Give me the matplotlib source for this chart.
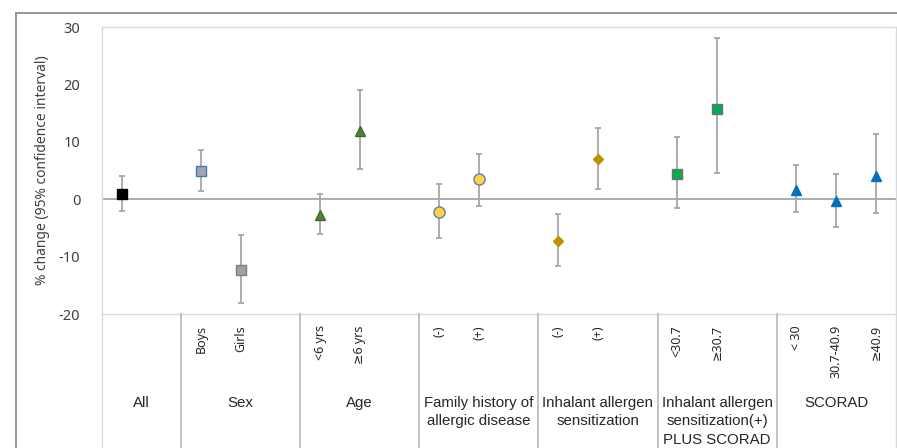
import matplotlib
matplotlib.use("Agg")
import matplotlib.pyplot as plt
from matplotlib.lines import Line2D

# ---------------- data ----------------
group_names = ["All", "Sex", "Age", "Family history of\nallergic disease",
               "Inhalant allergen\nsensitization",
               "Inhalant allergen\nsensitization(+)\nPLUS SCORAD", "SCORAD"]
subgroup_labels = [[""], ["Boys", "Girls"], ["<6 yrs", "\u22656 yrs"], ["(-)", "(+)"],
                   ["(-)", "(+)"], ["<30.7", "\u226530.7"], ["< 30", "30.7-40.9", "\u226540.9"]]
estimate = [0.87, 4.9, -12.3, -2.8, 11.9, -2.2, 3.6, -7.2, 7.0, 4.4, 15.7, 1.6, -0.35, 4.1]
ci_low = [-2.1, 1.4, -18.0, -6.0, 5.3, -6.7, -1.2, -11.7, 1.8, -1.6, 4.5, -2.3, -4.8, -2.4]
ci_high = [4.0, 8.6, -6.3, 0.9, 19.0, 2.6, 7.8, -2.5, 12.4, 10.8, 28.1, 6.0, 4.4, 11.3]
y_ticks = [-20, -10, 0, 10, 20, 30]
y_label = "% change (95% confidence interval)"

# ---------------- styles ----------------
group_slots = [2, 3, 3, 3, 3, 3, 3]
markers = ["s", "s", "s", "^", "^", "o", "o", "D", "D", "s", "s", "^", "^", "^"]
face = ["#000000", "#A5A5A5", "#A0A0A0", "#548235", "#548235", "#FFD43F", "#FFD43F",
        "#BF9000", "#BF9000", "#00B050", "#00B050", "#0070C0", "#0070C0", "#0070C0"]
edge = ["#000000", "#4472C4", "#7F7F7F", "#3F6A28", "#3F6A28", "#5B7DB1", "#5B7DB1",
        "#BF9000", "#BF9000", "#6F6F6F", "#6F6F6F", "#0070C0", "#0070C0", "#0070C0"]
msize = {"s": 7.7, "^": 7.6, "o": 8.0, "D": 5.6}

W, H = 897, 448
fig = plt.figure(figsize=(W / 100, H / 100), dpi=100)
L = 101.7 / W
AW = (895.7 - 101.7) / W
ax_bottom = (H - 314) / H
ax = fig.add_axes([L, ax_bottom, AW, (314 - 27) / H])

total = sum(group_slots)
# x positions derived from group structure
xs = []
bounds = [0]
start = 0
for g, n in zip(subgroup_labels, group_slots):
    for k in range(len(g)):
        xs.append(start + 0.5 + k)
    start += n
    bounds.append(start)

ax.axhline(0, color="#A6A6A6", lw=1.3, zorder=1)
for i, x in enumerate(xs):
    e = estimate[i]
    cont = ax.errorbar([x], [e], yerr=[[e - ci_low[i]], [ci_high[i] - e]],
                       fmt="none", ecolor="#A6A6A6", elinewidth=1.3,
                       capsize=2.4, capthick=1.3, zorder=2)
    for cl in cont[1]:
        cl.set_color("#3A3A3A")
    ax.plot([x], [e], marker=markers[i], ms=msize[markers[i]], mfc=face[i],
            mec=edge[i], mew=1.0, ls="none", zorder=3)

ax.set_xlim(0, total)
ax.set_ylim(-20, 30)
ax.set_yticks(y_ticks)
ax.set_yticklabels([str(t) for t in y_ticks], fontsize=10.5, family=["Noto Sans", "DejaVu Sans"],
                   color="#404040")
ax.tick_params(axis="y", length=0, pad=15.5)
ax.set_xticks([])
for s in ax.spines.values():
    s.set_color("#D9D9D9")
    s.set_linewidth(1.0)

fig.text(43 / W, 1 - 170 / H, y_label, rotation=90, ha="center", va="center",
         fontsize=10, family=["Noto Sans", "DejaVu Sans"], color="#404040")

# ---------------- table under the chart ----------------
tab = fig.add_axes([L, 0, AW, ax_bottom])
tab.set_xlim(0, total)
tab.set_ylim(134, 0)
tab.axis("off")
for b in bounds:
    c = "#D9D9D9" if b in (0, total) else "#BDBDBD"
    tab.plot([b, b], [0, 134], color=c, lw=1.3 if c == "#BDBDBD" else 1.0, clip_on=False)

idx = 0
for gi, (gname, subs) in enumerate(zip(group_names, subgroup_labels)):
    gcenter = (bounds[gi] + bounds[gi + 1]) / 2
    for k, lab in enumerate(subs):
        if lab:
            tab.text(xs[idx], 11, lab, rotation=90, ha="center", va="top",
                     fontsize=9, family=["Noto Sans", "DejaVu Sans"], color="#262626")
        idx += 1
    for li, line in enumerate(gname.split("\n")):
        tab.text(gcenter, 89 + li * 18.3, line, ha="center", va="center",
                 fontsize=10.8, family=["Liberation Sans", "DejaVu Sans"], color="#262626")

# ---------------- outer frame ----------------
fx = 16 / W
fy = 1 - 12.7 / H
fig.add_artist(Line2D([fx, fx], [0, fy], transform=fig.transFigure, color="#8C8C8C", lw=1.3))
fig.add_artist(Line2D([fx, 1], [fy, fy], transform=fig.transFigure, color="#8C8C8C", lw=1.3))

fig.savefig("out.png", dpi=100)
